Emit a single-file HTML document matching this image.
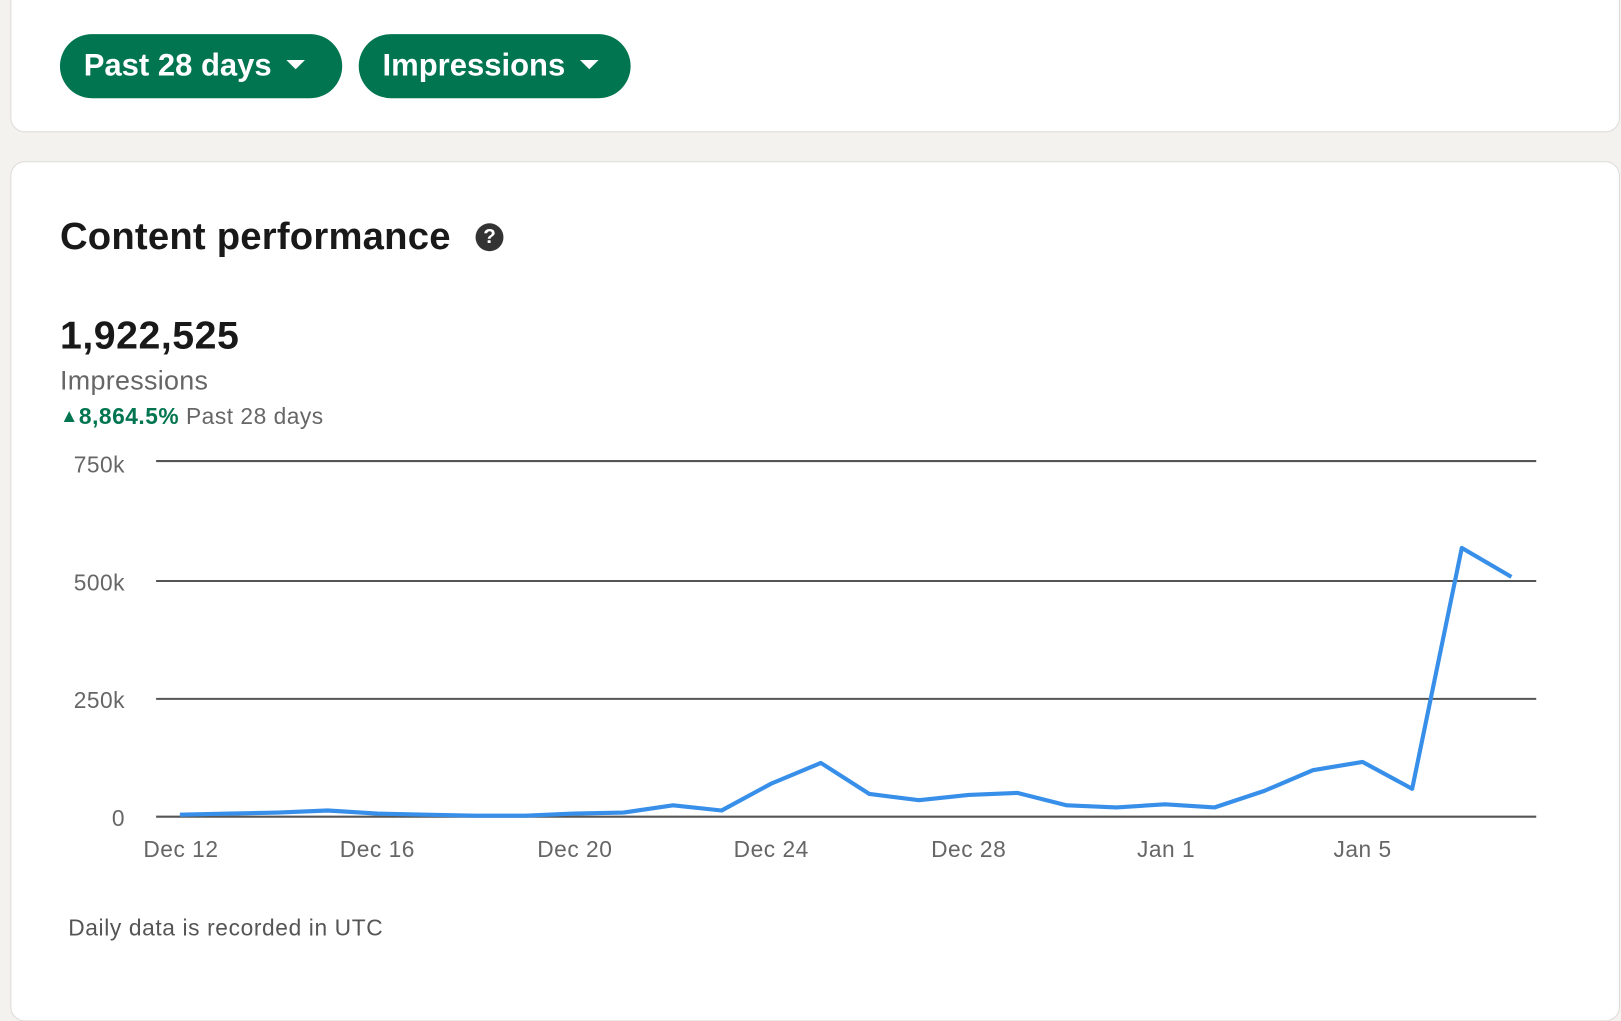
<!DOCTYPE html>
<html><head><style>
html,body{margin:0;padding:0;width:1621px;height:985px;overflow:hidden;background:#f3f2ef;font-family:"Liberation Sans",sans-serif}
#w{position:absolute;left:0;top:0;width:1568px;height:953px;transform:scale(1.03380);transform-origin:0 0}
.card{position:absolute;background:#fff;border:1.5px solid #dedcd8;border-radius:14px}
.btn{position:absolute;top:33px;height:62px;background:#01754f;border-radius:31px;color:#fff;font-weight:bold;font-size:30px;line-height:62px;box-sizing:border-box;padding-left:23px}
.btn span{display:inline-block;width:0;height:0;border-left:9px solid transparent;border-right:9px solid transparent;border-top:9px solid #fff;vertical-align:middle;margin-left:14px;position:relative;top:-3px}
.t{position:absolute;white-space:nowrap}
</style></head><body><div id="w">
<div class="card" style="left:10px;top:-14px;width:1555px;height:140px"></div>
<div class="btn" style="left:58px;width:273px">Past 28 days<span></span></div>
<div class="btn" style="left:347px;width:263px">Impressions<span></span></div>
<div class="card" style="left:10px;top:156px;width:1555px;height:830px"></div>
<div class="t" style="left:58px;top:208px;font-size:37px;font-weight:bold;color:#191919;letter-spacing:0.2px">Content performance</div>
<div class="t" style="left:460px;top:216px;width:27px;height:27px;border-radius:50%;background:#333;color:#fff;font-size:20px;font-weight:bold;text-align:center;line-height:27px">?</div>
<div class="t" style="left:58px;top:304px;font-size:38px;font-weight:bold;color:#191919;letter-spacing:0.5px">1,922,525</div>
<div class="t" style="left:58px;top:353px;font-size:26px;color:#666;letter-spacing:0.3px">Impressions</div>
<div class="t" style="left:58px;top:390px;font-size:22px;color:#666;letter-spacing:0.5px"><b style="color:#01754f"><span style="font-size:18px;position:relative;top:-2px">▲</span>8,864.5%</b> Past 28 days</div>
<svg class="t" style="left:0;top:0" width="1568" height="953">
<g stroke="#555" stroke-width="2"><line x1="151" x2="1486" y1="446" y2="446"/><line x1="151" x2="1486" y1="562" y2="562"/><line x1="151" x2="1486" y1="676" y2="676"/><line x1="151" x2="1486" y1="790" y2="790"/></g>
<g font-family="Liberation Sans" font-size="22" fill="#666" text-anchor="end" letter-spacing="0.5"><text x="121" y="457">750k</text><text x="121" y="571">500k</text><text x="121" y="685">250k</text><text x="121" y="799">0</text></g>
<g font-family="Liberation Sans" font-size="22" fill="#666" text-anchor="middle" letter-spacing="0.5"><text x="175" y="829">Dec 12</text><text x="365" y="829">Dec 16</text><text x="556" y="829">Dec 20</text><text x="746" y="829">Dec 24</text><text x="937" y="829">Dec 28</text><text x="1128" y="829">Jan 1</text><text x="1318" y="829">Jan 5</text></g>
<polyline fill="none" stroke="#378fe9" stroke-width="4" stroke-linejoin="round" points="174,788 222,787 269,786 317,784 365,787 412,788 460,789 508,789 555,787 603,786 651,779 698,784 746,758 794,738 841,768 889,774 937,769 984,767 1032,779 1080,781 1127,778 1175,781 1223,765 1270,745 1318,737 1366,763 1414,530 1462,558"/>
</svg>
<div class="t" style="left:66px;top:885px;font-size:22px;color:#555;letter-spacing:0.6px">Daily data is recorded in UTC</div>
</div></body></html>
